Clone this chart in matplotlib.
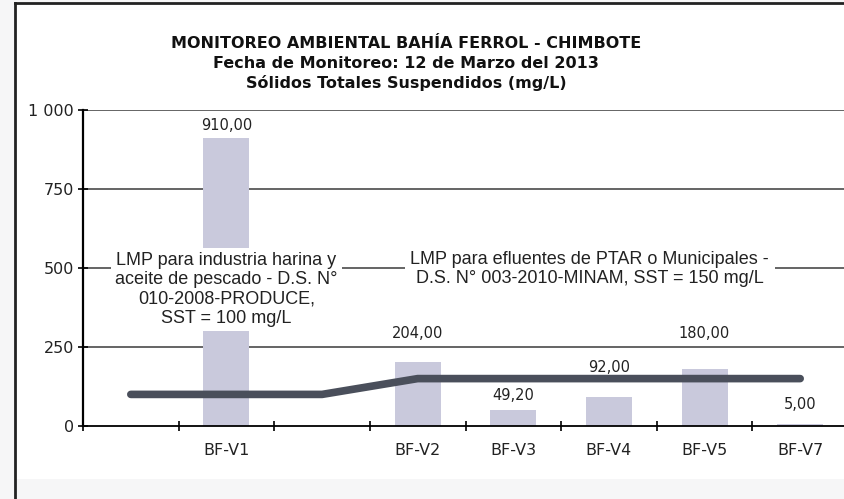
import matplotlib
matplotlib.use("Agg")
import matplotlib.pyplot as plt
from matplotlib.lines import Line2D
import numpy as np

# ---- data ----
categories = ["", "BF-V1", "", "BF-V2", "BF-V3", "BF-V4", "BF-V5", "BF-V7"]
sst_values = [np.nan, 910.0, np.nan, 204.0, 49.2, 92.0, 180.0, 5.0]
lmp_values = [100, 100, 100, 150, 150, 150, 150, 150]
value_labels = ["", "910,00", "", "204,00", "49,20", "92,00", "180,00", "5,00"]
y_ticks = [0, 250, 500, 750, 1000]
y_tick_labels = ["0", "250", "500", "750", "1 000"]
title_lines = ["MONITOREO AMBIENTAL BAHÍA FERROL - CHIMBOTE",
               "Fecha de Monitoreo: 12 de Marzo del 2013",
               "Sólidos Totales Suspendidos (mg/L)"]
note_produce = "LMP para industria harina y\naceite de pescado - D.S. N°\n010-2008-PRODUCE,\nSST = 100 mg/L"
note_minam = "LMP para efluentes de PTAR o Municipales -\nD.S. N° 003-2010-MINAM, SST = 150 mg/L"

# label offsets (points above bar top) - styling only
label_offsets = [0, 9.5, 0, 20.5, 11, 21.5, 26, 14.5]

fig = plt.figure(figsize=(8.44, 4.99), dpi=100, facecolor="#f6f6f7")
ax = fig.add_axes([83 / 844, 1 - 426 / 499, (848 - 83) / 844, (426 - 110) / 499])
ax.set_facecolor("white")

x = np.arange(len(categories))
ax.set_xlim(-0.5, len(categories) - 0.5)
ax.set_ylim(0, 1000)

# gridlines
for yt in y_ticks[1:]:
    ax.axhline(yt, color="#4a4a4a", lw=1.2, zorder=1)

bars = ax.bar(x, sst_values, width=0.48, color="#c9c9dc", zorder=2)

ax.plot(x, lmp_values, color="#4a4f5b", lw=5.5, solid_capstyle="round",
        solid_joinstyle="round", zorder=4)

for xi, v, lab, off in zip(x, sst_values, value_labels, label_offsets):
    if lab:
        ax.annotate(lab, (xi, v), xytext=(0, off), textcoords="offset points",
                    ha="center", va="center", fontsize=10.5, color="#222222",
                    family="DejaVu Sans", zorder=6)

note_font = ["Liberation Sans", "DejaVu Sans"]
ax.text(1, 433, note_produce, ha="center", va="center", fontsize=13,
        family=note_font, color="#222222", linespacing=1.18, zorder=5,
        bbox=dict(boxstyle="square,pad=0.22", fc="white", ec="none"))
ax.text(4.8, 496, note_minam, ha="center", va="center", fontsize=13,
        family=note_font, color="#222222", linespacing=1.15, zorder=5,
        bbox=dict(boxstyle="square,pad=0.3", fc="white", ec="none"))

# axes styling
for s in ["top", "right"]:
    ax.spines[s].set_visible(False)
ax.spines["left"].set_color("black")
ax.spines["left"].set_linewidth(1.6)
ax.spines["bottom"].set_color("black")
ax.spines["bottom"].set_linewidth(1.3)

ax.set_yticks(y_ticks)
ax.set_yticklabels(y_tick_labels, fontsize=11.5, color="#222222")
ax.tick_params(axis="y", direction="inout", length=7, width=1.2, pad=3)

ax.set_xticks(x)
ax.set_xticklabels(categories, fontsize=11.5, color="#222222")
ax.tick_params(axis="x", which="major", length=0, pad=12)
ax.set_xticks(np.arange(-0.5, len(categories), 1.0), minor=True)
ax.tick_params(axis="x", which="minor", direction="inout", length=7, width=1.2)

# title
ty = [1 - 43 / 499, 1 - 63 / 499, 1 - 83 / 499]
for line, yy in zip(title_lines, ty):
    fig.text(406 / 844, yy, line, ha="center", va="center", fontsize=11.5,
             fontweight="bold", family="DejaVu Sans", color="#111111")

# outer chart frame (top and left edges visible)
fig.add_artist(Line2D([15 / 844, 1.0], [1 - 3 / 499, 1 - 3 / 499],
                      transform=fig.transFigure, color="#222222", lw=2))
fig.add_artist(Line2D([15 / 844, 15 / 844], [0.0, 1 - 3 / 499],
                      transform=fig.transFigure, color="#222222", lw=2))
fig.patches.append(plt.Rectangle((15 / 844, 20 / 499), 1 - 15 / 844, 1 - 23 / 499,
                                 transform=fig.transFigure, fc="white", ec="none",
                                 zorder=-10))

fig.savefig("out.png", dpi=100, facecolor=fig.get_facecolor())
